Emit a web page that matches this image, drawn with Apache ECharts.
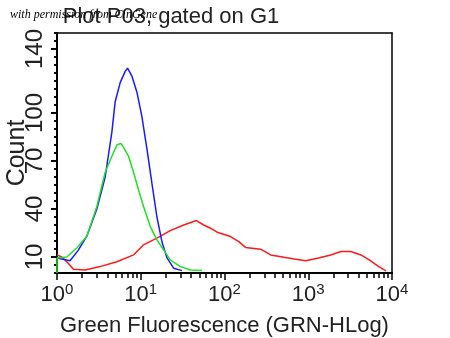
<!DOCTYPE html>
<html>
<head>
<meta charset="utf-8">
<script src="https://cdn.jsdelivr.net/npm/echarts@6/dist/echarts.min.js"></script>
<style>
  html, body { margin: 0; padding: 0; background: #fff; }
  #chart { width: 450px; height: 338px; }
</style>
</head>
<body>
<div id="chart"></div>
<script>
// fluorescence (x) and count (y)
var blueX = [1.0, 1.43, 1.78, 2.27, 2.99, 3.76, 4.52, 4.95, 5.68, 6.52, 6.95, 7.85, 9.0, 10.3, 11.9, 13.6, 15.6, 18.0, 20.6, 24.7, 31.1];
var blueY = [9.4, 7.7, 14, 23, 40, 60, 88, 107, 119, 126, 128, 123, 113, 98, 77, 56, 35, 19, 9.4, 3, 1.5];

var greenX = [1.0, 1.0, 1.31, 1.72, 2.27, 2.99, 3.76, 4.52, 5.19, 5.79, 6.22, 7.14, 8.2, 9.4, 10.8, 13.0, 15.6, 18.8, 22.5, 29.7, 39.2, 54.1];
var greenY = [0, 9.4, 10, 15.6, 23, 41.6, 63, 73, 80, 81, 78.5, 73, 63, 52, 41.6, 29, 20.7, 14.4, 8.2, 4, 1.9, 1.5];

var redX = [1.0, 1.14, 1.37, 1.57, 2.17, 3.27, 5.19, 8.2, 10.8, 15.6, 22.5, 32.6, 46.2, 56.5, 68, 81.8, 118, 148, 178, 270, 356, 513, 676, 933, 1288, 1858, 2449, 3228, 4256, 5350, 6740, 8090, 8475];
var redY = [11.3, 10, 6, 2.3, 1.9, 4, 7, 11.3, 17.6, 21.8, 26.5, 30, 32.8, 30, 28, 25.5, 22.8, 19.6, 16, 14.9, 11.3, 9.8, 8.8, 7.7, 9.2, 11.3, 13.4, 13.4, 11.3, 8.2, 4.4, 1.9, 1.3];

var yLabels = [10, 40, 70, 100, 140];

// minor tick positions of the log axis (2..9 in every decade), in decades
var xMinorTicks = [];
[0, 1, 2, 3].forEach(function (k) {
  for (var m = 2; m <= 9; m++) xMinorTicks.push(k + Math.log10(m));
});

function zip(xs, ys) {
  return xs.map(function (x, i) { return [x, ys[i]]; });
}

var font = 'Liberation Sans';
var txt = '#222';
var frameLine = { show: true, onZero: false, lineStyle: { color: '#000', width: 2 } };

var chart = echarts.init(document.getElementById('chart'));
chart.setOption({
  animation: false,
  title: {
    text: 'Plot P03, gated on G1',
    left: 166,
    top: 1,
    textAlign: 'center',
    textStyle: { fontFamily: font, fontSize: 22, fontWeight: 'normal', color: txt }
  },
  graphic: [{
    type: 'text',
    left: 10,
    top: 9,
    z: 100,
    style: {
      text: 'with permission from CinGene',
      fontFamily: 'Liberation Serif',
      fontStyle: 'italic',
      fontSize: 12,
      fill: '#000'
    }
  }],
  grid: { left: 57, top: 33, right: 58, bottom: 65, outerBoundsMode: 'none' },
  xAxis: [{
    type: 'log',
    logBase: 10,
    min: 1,
    max: 10000,
    name: 'Green Fluorescence (GRN-HLog)',
    nameLocation: 'middle',
    nameGap: 42,
    nameTextStyle: { fontFamily: font, fontSize: 22, color: txt },
    axisLine: frameLine,
    axisTick: { show: true, length: 7, lineStyle: { color: '#000', width: 1.5 } },
    splitLine: { show: false },
    axisLabel: {
      margin: 9,
      formatter: function (v) {
        return '{b|10}{s|' + Math.round(Math.log10(v)) + '}';
      },
      rich: {
        b: { fontFamily: font, fontSize: 22, color: txt },
        s: { fontFamily: font, fontSize: 15, color: txt, verticalAlign: 'top', padding: [0, 0, 10, 0] }
      }
    }
  }, {
    // minor ticks, in decade units
    type: 'value',
    min: 0,
    max: 4,
    position: 'bottom',
    axisLine: frameLine,
    axisTick: { show: true, customValues: xMinorTicks, length: 5, lineStyle: { color: '#000', width: 1.5 } },
    axisLabel: { show: false },
    splitLine: { show: false }
  }, {
    // top frame
    type: 'value',
    min: 0,
    max: 4,
    position: 'top',
    axisLine: { show: true, onZero: false, lineStyle: { color: '#000', width: 1.5 } },
    axisTick: { show: false },
    axisLabel: { show: false },
    splitLine: { show: false }
  }],
  yAxis: [{
    type: 'value',
    min: 0,
    max: 150,
    interval: 5,
    name: 'Count',
    nameLocation: 'middle',
    nameGap: 27,
    nameMoveOverlap: false,
    nameTextStyle: { fontFamily: font, fontSize: 25, color: txt },
    axisLine: frameLine,
    axisTick: { show: true, length: 3, lineStyle: { color: '#000', width: 2 } },
    splitLine: { show: false },
    axisLabel: {
      customValues: yLabels,
      rotate: 90,
      margin: 10,
      fontFamily: font,
      fontSize: 24,
      color: txt
    }
  }, {
    // longer ticks at the labelled values
    type: 'value',
    min: 0,
    max: 150,
    position: 'left',
    axisLine: frameLine,
    axisTick: { show: true, customValues: yLabels, length: 6, lineStyle: { color: '#000', width: 2 } },
    axisLabel: { show: false },
    splitLine: { show: false }
  }, {
    // right frame
    type: 'value',
    min: 0,
    max: 150,
    position: 'right',
    axisLine: { show: true, onZero: false, lineStyle: { color: '#000', width: 1.5 } },
    axisTick: { show: false },
    axisLabel: { show: false },
    splitLine: { show: false }
  }],
  series: [{
    type: 'line',
    data: zip(redX, redY),
    showSymbol: false,
    lineStyle: { color: '#ff1a1a', width: 1.5 },
    z: 2
  }, {
    type: 'line',
    data: zip(blueX, blueY),
    showSymbol: false,
    lineStyle: { color: '#1a1aff', width: 1.5 },
    z: 3
  }, {
    type: 'line',
    data: zip(greenX, greenY),
    showSymbol: false,
    lineStyle: { color: '#22e022', width: 1.5 },
    z: 4
  }]
});
</script>
</body>
</html>
